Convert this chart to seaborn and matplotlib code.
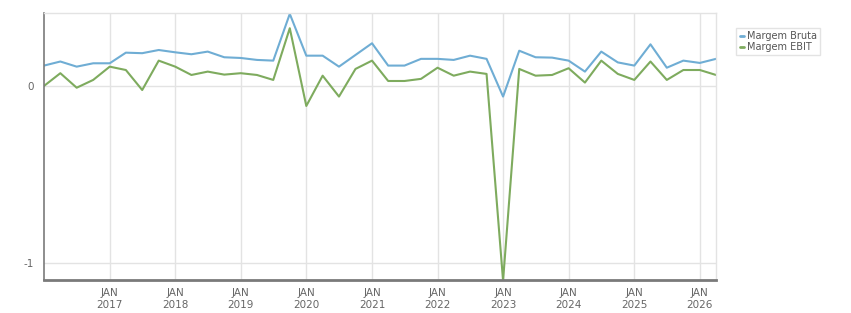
import pandas as pd
import matplotlib
matplotlib.use("Agg")
import matplotlib.pyplot as plt
import seaborn as sns
from matplotlib.lines import Line2D

# quarterly margins
dates = pd.date_range("2016-01-01", periods=42, freq="QS")
margem_bruta = [
    0.115, 0.138, 0.109, 0.128, 0.128, 0.188, 0.185, 0.203, 0.190, 0.179,
    0.194, 0.162, 0.158, 0.147, 0.143, 0.407, 0.171, 0.171, 0.109, 0.175,
    0.241, 0.115, 0.115, 0.153, 0.153, 0.147, 0.171, 0.153, -0.060, 0.199,
    0.162, 0.160, 0.143, 0.081, 0.194, 0.133, 0.115, 0.235, 0.103, 0.143,
    0.130, 0.153,
]
margem_ebit = [
    0.000, 0.072, -0.010, 0.034, 0.109, 0.090, -0.023, 0.143, 0.109, 0.062,
    0.081, 0.064, 0.072, 0.062, 0.034, 0.326, -0.113, 0.058, -0.060, 0.096,
    0.143, 0.028, 0.028, 0.040, 0.103, 0.058, 0.081, 0.068, -1.100, 0.096,
    0.058, 0.062, 0.100, 0.019, 0.143, 0.068, 0.034, 0.138, 0.034, 0.090,
    0.090, 0.062,
]
series_names = ["Margem Bruta", "Margem EBIT"]
colors = ["#6fadd4", "#7eab5e"]

df = pd.concat([
    pd.DataFrame({"Data": dates, "Valor": margem_bruta, "Serie": series_names[0]}),
    pd.DataFrame({"Data": dates, "Valor": margem_ebit, "Serie": series_names[1]}),
])

sns.set_style("white")
plt.rcParams["font.family"] = ["DejaVu Sans"]

fig = plt.figure(figsize=(8.51, 3.13), dpi=100)
ax = fig.add_axes([44 / 851, 1 - 280 / 313, 672 / 851, 267 / 313])

sns.lineplot(data=df, x="Data", y="Valor", hue="Serie", palette=colors,
             linewidth=1.5, ax=ax, legend=False)

ax.set_xlim(pd.Timestamp("2016-01-01"), pd.Timestamp("2026-04-01"))
ax.set_ylim(-1.096, 0.412)

tick_years = list(range(2017, 2027))
ax.set_xticks([pd.Timestamp(f"{y}-01-01") for y in tick_years])
ax.set_xticklabels([f"JAN\n{y}" for y in tick_years])
ax.set_yticks([-1, 0])
ax.set_yticklabels(["-1", "0"])

ax.grid(True, color="#e3e3e3", linewidth=1)
ax.set_axisbelow(True)
ax.set_xlabel("")
ax.set_ylabel("")

for s in ["top", "right"]:
    ax.spines[s].set_color("#e3e3e3")
    ax.spines[s].set_linewidth(1)
ax.spines["left"].set_color("#7a7a7a")
ax.spines["left"].set_linewidth(1.2)
ax.spines["bottom"].set_color("#7a7a7a")
ax.spines["bottom"].set_linewidth(2)

ax.tick_params(axis="both", colors="#7a7a7a", labelcolor="#666666",
               labelsize=7.5, length=4, width=1)
ax.tick_params(axis="x", pad=2)

handles = [Line2D([], [], color=c, linewidth=2) for c in colors]
leg = ax.legend(handles, series_names, loc="upper left",
                bbox_to_anchor=(1.03, 0.945), fontsize=7, frameon=True,
                handlelength=0.5, handletextpad=0.25, borderpad=0.35,
                labelspacing=0.1, borderaxespad=0, fancybox=False)
leg.get_frame().set_edgecolor("#dddddd")
leg.get_frame().set_linewidth(1)
for t in leg.get_texts():
    t.set_color("#555555")

fig.savefig("out.png", dpi=100)
